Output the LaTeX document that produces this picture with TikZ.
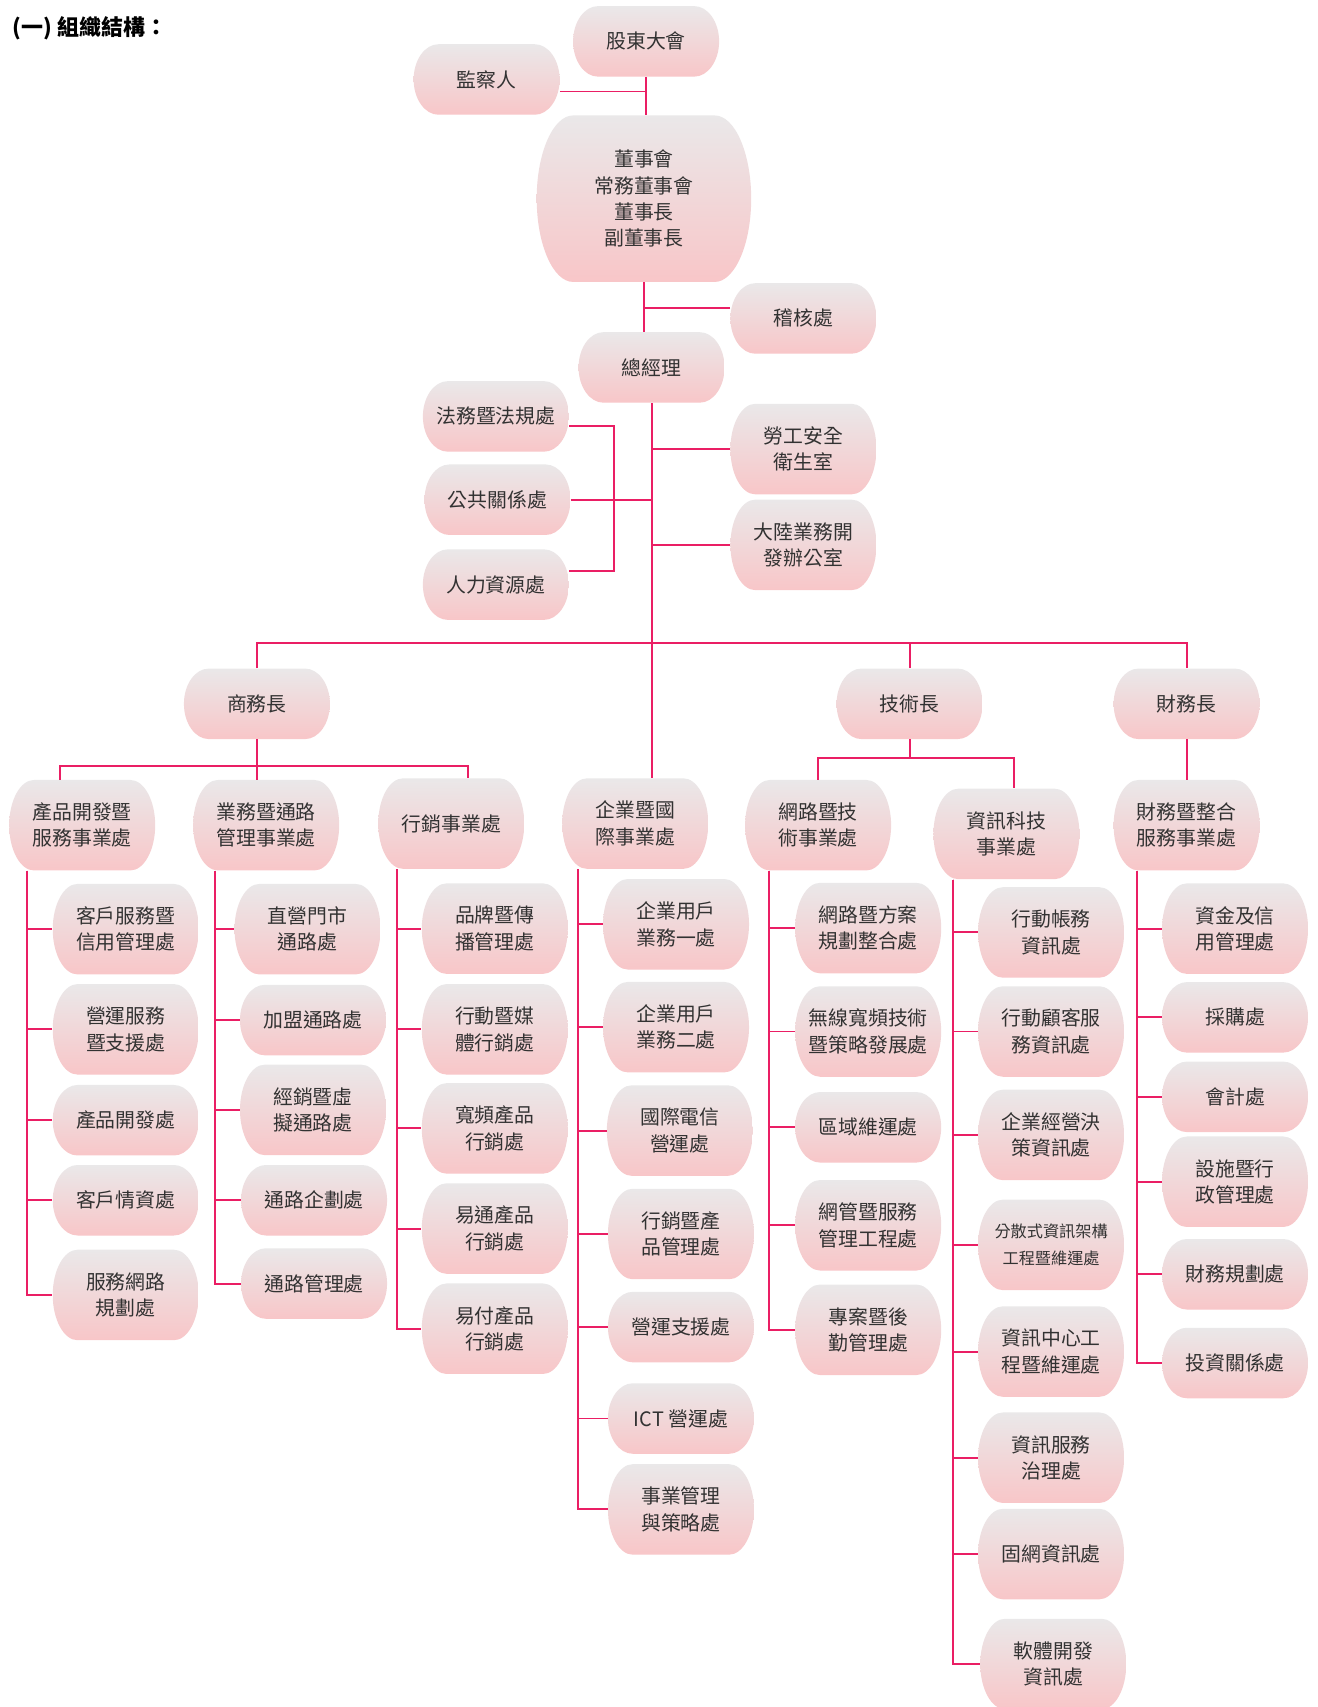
\documentclass[tikz,border=0pt]{standalone}
\usepackage{fontspec}
\setmainfont{Noto Sans CJK TC}
\usetikzlibrary{positioning,calc}

\definecolor{linkred}{RGB}{234,30,100}
\definecolor{boxtop}{RGB}{234,232,233}
\definecolor{boxbot}{RGB}{248,198,200}
\definecolor{boxtext}{RGB}{50,50,50}

\tikzset{
  pbox/.style={fill=white, inner sep=0pt, align=center, text=boxtext,
    minimum width=2.92cm, minimum height=1.41cm,
    font=\fontsize{11.3}{15}\selectfont,
    path picture={
      \path[top color=boxtop, bottom color=boxbot]
        let \p1=(path picture bounding box.north west),
            \p2=(path picture bounding box.south east),
            \p3=($(\p1)!.5!(\p2)$),
            \n1={0.17*(\x2-\x1)}
        in ({\x1+\n1},\y1) -- ({\x2-\n1},\y1)
        .. controls ({\x2-0.45*\n1},\y1) and (\x2,{\y3+0.55*(\y1-\y3)}) .. (\x2,\y3)
        .. controls (\x2,{\y3-0.55*(\y1-\y3)}) and ({\x2-0.45*\n1},\y2) .. ({\x2-\n1},\y2)
        -- ({\x1+\n1},\y2)
        .. controls ({\x1+0.45*\n1},\y2) and (\x1,{\y3-0.55*(\y1-\y3)}) .. (\x1,\y3)
        .. controls (\x1,{\y3+0.55*(\y1-\y3)}) and ({\x1+0.45*\n1},\y1) .. cycle;
    }},
  tall/.style={minimum height=1.81cm},
  big/.style={minimum width=4.29cm, minimum height=3.33cm},
  small/.style={font=\fontsize{9.2}{15}\selectfont},
  link/.style={draw=linkred, line width=1.1pt}
}
\newcommand{\pnode}[4][]{\node [pbox,#1] (#2) at (#3) {#4}}

\begin{document}
\begin{tikzpicture}[x=0.021768cm, y=-0.021768cm]
\useasboundingbox (0,0) rectangle (1210,1568);

\node [anchor=west, font=\bfseries\fontsize{12.5}{15}\selectfont] (TTL) at (6,26) {(一)\ 組織結構：};

% top
\pnode{GDH}{593.5,38}{股東大會};
\pnode{JCR}{447,73}{監察人};
\pnode[big]{DSH}{591.5,182.5}{董事會\\常務董事會\\董事長\\副董事長};
\pnode{JHC}{738,292.5}{稽核處};
\pnode{ZJL}{598.5,337.5}{總經理};
\pnode{FW}{455.5,382.5}{法務暨法規處};
\pnode{GG}{457,459}{公共關係處};
\pnode{RL}{455.5,537}{人力資源處};
\pnode[tall]{LG}{738,412.5}{勞工安全\\衛生室};
\pnode[tall]{DL}{738,500.5}{大陸業務開\\發辦公室};

% chiefs
\pnode{SW}{236,646.5}{商務長};
\pnode{JS}{835.5,646.5}{技術長};
\pnode{CW}{1090,646.5}{財務長};

% divisions
\pnode[tall]{CP}{75.5,758}{產品開發暨\\服務事業處};
\pnode[tall]{YW}{244.5,758}{業務暨通路\\管理事業處};
\pnode[tall]{XX}{414.5,756.5}{行銷事業處};
\pnode[tall]{QY}{583.5,756.5}{企業暨國\\際事業處};
\pnode[tall]{WL}{751.5,758}{網路暨技\\術事業處};
\pnode[tall]{ZX}{924.5,766}{資訊科技\\事業處};
\pnode[tall]{CZ}{1090,758}{財務暨整合\\服務事業處};

% units
\pnode[tall]{A1}{115.5,853.5}{客戶服務暨\\信用管理處};
\pnode[tall]{A2}{115.5,945.5}{營運服務\\暨支援處};
\pnode{A3}{115.5,1029}{產品開發處};
\pnode{A4}{115.5,1102.5}{客戶情資處};
\pnode[tall]{A5}{115.5,1189.5}{服務網路\\規劃處};

\pnode[tall]{B1}{282.5,853.5}{直營門市\\通路處};
\pnode{B2}{287.5,937}{加盟通路處};
\pnode[tall]{B3}{287.5,1019.5}{經銷暨虛\\擬通路處};
\pnode{B4}{288.5,1102.5}{通路企劃處};
\pnode{B5}{288.5,1179}{通路管理處};

\pnode[tall]{C1}{454.5,853}{品牌暨傳\\播管理處};
\pnode[tall]{C2}{454.5,945.5}{行動暨媒\\體行銷處};
\pnode[tall]{C3}{454.5,1036.5}{寬頻產品\\行銷處};
\pnode[tall]{C4}{454.5,1128.5}{易通產品\\行銷處};
\pnode[tall]{C5}{454.5,1220.5}{易付產品\\行銷處};

\pnode[tall]{D1}{621,849}{企業用戶\\業務一處};
\pnode[tall]{D2}{621,943.5}{企業用戶\\業務二處};
\pnode[tall]{D3}{624.5,1038.5}{國際電信\\營運處};
\pnode[tall]{D4}{625.5,1133.5}{行銷暨產\\品管理處};
\pnode{D5}{625.5,1219}{營運支援處};
\pnode{D6}{625.5,1303}{ICT 營運處};
\pnode[tall]{D7}{625.5,1386.5}{事業管理\\與策略處};

\pnode[tall]{E1}{797.5,852.5}{網路暨方案\\規劃整合處};
\pnode[tall]{E2}{797.5,947.5}{無線寬頻技術\\暨策略發展處};
\pnode{E3}{797.5,1035.5}{區域維運處};
\pnode[tall]{E4}{797.5,1125.5}{網管暨服務\\管理工程處};
\pnode[tall]{E5}{797.5,1221.5}{專案暨後\\勤管理處};

\pnode[tall]{F1}{965.5,856.5}{行動帳務\\資訊處};
\pnode[tall]{F2}{965.5,947.5}{行動顧客服\\務資訊處};
\pnode[tall]{F3}{965.5,1042.5}{企業經營決\\策資訊處};
\pnode[tall,small]{F4}{965.5,1143.5}{分散式資訊架構\\工程暨維運處};
\pnode[tall]{F5}{965.5,1241.5}{資訊中心工\\程暨維運處};
\pnode[tall]{F6}{965.5,1339}{資訊服務\\治理處};
\pnode[tall]{F7}{965.5,1427.5}{固網資訊處};
\pnode[tall]{F8}{967.5,1528.5}{軟體開發\\資訊處};

\pnode[tall]{G1}{1134.5,853}{資金及信\\用管理處};
\pnode{G2}{1134.5,934.5}{採購處};
\pnode{G3}{1134.5,1007.5}{會計處};
\pnode[tall]{G4}{1134.5,1085.5}{設施暨行\\政管理處};
\pnode{G5}{1134.5,1170.5}{財務規劃處};
\pnode{G6}{1134.5,1252}{投資關係處};

% top links
\draw[link] (GDH.south) -- (GDH.south |- DSH.north);
\draw[link] ([yshift=-0.24cm]JCR.east) -| (GDH.south);
\draw[link] (DSH.south) -- (DSH.south |- ZJL.north);
\draw[link] ([yshift=0.2cm]JHC.west) -| (DSH.south);
\draw[link] (ZJL.south) -- (ZJL.south |- QY.north);
\draw[link] ([yshift=-0.2cm]FW.east) -- ++(0.89cm,0) |- ([yshift=0.28cm]RL.east);
\draw[link] (GG.east) -- (GG.east -| ZJL.south);
\draw[link] (LG.west -| ZJL.south) -- (LG.west);
\draw[link] (DL.west -| ZJL.south) -- (DL.west);

% bus to chiefs
\coordinate (BUS) at (596,591);
\draw[link] (SW.north) -- (SW.north |- BUS) -- (CW.north |- BUS) -- (CW.north);
\draw[link] (JS.north) -- (JS.north |- BUS);

% chiefs to divisions
\coordinate (SWB) at ($(SW.south)+(0,24)$);
\draw[link] (SW.south) -- (SW.south |- YW.north);
\draw[link] ([xshift=-0.45cm]CP.north) |- (SWB) -| ([xshift=0.34cm]XX.north);
\coordinate (JSB) at ($(JS.south)+(0,17)$);
\draw[link] (JS.south) -- (JSB);
\draw[link] (WL.north) |- (JSB) -| ([xshift=0.16cm]ZX.north);
\draw[link] (CW.south) -- (CZ.north);

% divisions to units
\draw[link] ([xshift=0.37cm]CP.south west) |- (A1.west);
\draw[link] ([xshift=0.37cm]CP.south west) |- (A2.west);
\draw[link] ([xshift=0.37cm]CP.south west) |- (A3.west);
\draw[link] ([xshift=0.37cm]CP.south west) |- (A4.west);
\draw[link] ([xshift=0.37cm]CP.south west) |- (A5.west);

\draw[link] ([xshift=0.44cm]YW.south west) |- (B1.west);
\draw[link] ([xshift=0.44cm]YW.south west) |- (B2.west);
\draw[link] ([xshift=0.44cm]YW.south west) |- (B3.west);
\draw[link] ([xshift=0.44cm]YW.south west) |- (B4.west);
\draw[link] ([xshift=0.44cm]YW.south west) |- (B5.west);

\draw[link] ([xshift=0.39cm]XX.south west) |- (C1.west);
\draw[link] ([xshift=0.39cm]XX.south west) |- (C2.west);
\draw[link] ([xshift=0.39cm]XX.south west) |- (C3.west);
\draw[link] ([xshift=0.39cm]XX.south west) |- (C4.west);
\draw[link] ([xshift=0.39cm]XX.south west) |- (C5.west);

\draw[link] ([xshift=0.33cm]QY.south west) |- (D1.west);
\draw[link] ([xshift=0.33cm]QY.south west) |- (D2.west);
\draw[link] ([xshift=0.33cm]QY.south west) |- (D3.west);
\draw[link] ([xshift=0.33cm]QY.south west) |- (D4.west);
\draw[link] ([xshift=0.33cm]QY.south west) |- (D5.west);
\draw[link] ([xshift=0.33cm]QY.south west) |- (D6.west);
\draw[link] ([xshift=0.33cm]QY.south west) |- (D7.west);

\draw[link] ([xshift=0.48cm]WL.south west) |- (E1.west);
\draw[link] ([xshift=0.48cm]WL.south west) |- (E2.west);
\draw[link] ([xshift=0.48cm]WL.south west) |- (E3.west);
\draw[link] ([xshift=0.48cm]WL.south west) |- (E4.west);
\draw[link] ([xshift=0.48cm]WL.south west) |- (E5.west);

\draw[link] ([xshift=0.39cm]ZX.south west) |- (F1.west);
\draw[link] ([xshift=0.39cm]ZX.south west) |- (F2.west);
\draw[link] ([xshift=0.39cm]ZX.south west) |- (F3.west);
\draw[link] ([xshift=0.39cm]ZX.south west) |- (F4.west);
\draw[link] ([xshift=0.39cm]ZX.south west) |- (F5.west);
\draw[link] ([xshift=0.39cm]ZX.south west) |- (F6.west);
\draw[link] ([xshift=0.39cm]ZX.south west) |- (F7.west);
\draw[link] ([xshift=0.39cm]ZX.south west) |- (F8.west);

\draw[link] ([xshift=0.48cm]CZ.south west) |- (G1.west);
\draw[link] ([xshift=0.48cm]CZ.south west) |- (G2.west);
\draw[link] ([xshift=0.48cm]CZ.south west) |- (G3.west);
\draw[link] ([xshift=0.48cm]CZ.south west) |- (G4.west);
\draw[link] ([xshift=0.48cm]CZ.south west) |- (G5.west);
\draw[link] ([xshift=0.48cm]CZ.south west) |- (G6.west);

\end{tikzpicture}
\end{document}
